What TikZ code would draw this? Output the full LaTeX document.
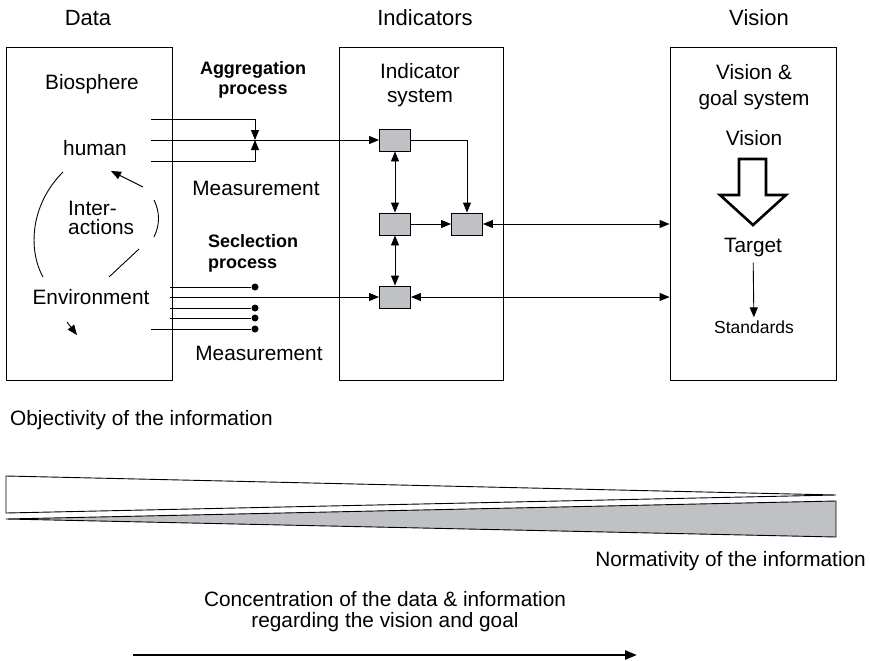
\documentclass[tikz,border=0pt]{standalone}
\usepackage{fontspec}
\setmainfont{Liberation Sans}
\usetikzlibrary{arrows.meta}
\definecolor{boxgray}{RGB}{192,193,197}
\tikzset{
  panel/.style={draw, line width=0.9pt, minimum width=166pt, minimum height=333pt, inner sep=0pt},
  ind/.style={draw, line width=0.9pt, fill=boxgray, minimum width=31pt, minimum height=22pt, inner sep=0pt},
  txt/.style={font=\fontsize{20.8}{24}\selectfont, align=center, inner sep=0pt},
  ttl/.style={font=\fontsize{22}{26}\selectfont, inner sep=0pt},
  bld/.style={font=\bfseries\fontsize{18}{21}\selectfont, inner sep=0pt},
  sml/.style={font=\fontsize{17.5}{20}\selectfont, inner sep=0pt},
  selpt/.style={circle, fill, inner sep=0pt, minimum size=7pt},
  wire/.style={line width=0.9pt},
  arr/.style={-{Triangle[length=10pt,width=8pt]}},
  arrs/.style={{Triangle[length=10pt,width=8pt]}-{Triangle[length=10pt,width=8pt]}},
}
\begin{document}
\begin{tikzpicture}[x=1pt, y=-1pt]
\useasboundingbox (0,0) rectangle (870,661);

% three columns
\node[ttl] (tdata) at (88,18) {Data};
\node[ttl] (tind) at (425,18) {Indicators};
\node[ttl] (tvis) at (759,18) {Vision};
\node[panel] (data) at (89,213.5) {};
\node[panel, minimum width=164pt] (indic) at (421,213.5) {};
\node[panel] (vis) at (753,213.5) {};

% data
\node[txt] (bio) at (92,84) {Biosphere};
\node[txt] (human) at (95,148) {human};
\node[txt, align=left, anchor=west, font=\fontsize{20.8}{19}\selectfont] (inter) at (68,218) {Inter-\\actions};
\node[txt] (env) at (91,297) {Environment};
\draw[wire] (63,172) .. controls (30,205) and (28,250) .. (43,277);
\draw[wire, arr] (143,187) -- (111,171);
\draw[wire] (154,200) .. controls (160,212) and (160,225) .. (154,237);
\draw[wire] (139,249) -- (109,277);
\draw[wire, arr] (67,322) -- (77,335);

% aggregation
\node[bld, align=center, font=\bfseries\fontsize{18}{20}\selectfont] (aggtxt) at (253,80) {Aggregation\\process};
\node[txt] (meas1) at (256,188) {Measurement};
\coordinate (agg) at (255,140);
\coordinate (a1) at (151,119);
\coordinate (a2) at (151,140);
\coordinate (a3) at (151,161);
\draw[wire, arr] (a1) -| (agg);
\draw[wire, arr] (a3) -| (agg);

% selection
\node[bld, align=left, anchor=west] (seltxt) at (208,253) {Seclection\\process};
\node[txt] (meas2) at (259,353) {Measurement};
\foreach \y/\x in {287/170, 308/170, 318/170, 329/151} {
  \node[selpt] (s\y) at (255,\y) {};
  \draw[wire] (\x,\y) -- (s\y);
}
\coordinate (s0) at (170,297);

% indicators
\node[txt] (indsys) at (420,85) {Indicator\\system};
\node[ind] (i1) at (395,140) {};
\node[ind] (i2) at (395,224) {};
\node[ind] (i3) at (467,224) {};
\node[ind] (i4) at (395,297) {};
\draw[wire, arr] (a2) -- (i1);
\draw[wire, arr] (s0) -- (i4);
\draw[wire, arr] (i1.east) -| (i3.north);
\draw[wire, arr] (i2) -- (i3);
\draw[wire, arrs] (i1) -- (i2);
\draw[wire, arrs] (i2) -- (i4);
\draw[wire, arrs] (i3) -- (i3 -| vis.west);
\draw[wire, arrs] (i4) -- (i4 -| vis.west);

% vision
\node[txt, font=\fontsize{20.8}{26}\selectfont] (goal) at (754,87) {Vision \&\\goal system};
\node[txt] (vtop) at (754,138) {Vision};
\draw[line width=2.6pt] (739,159) -- (766,159) -- (766,195) -- (786,195) -- (753,225)
  -- (720,195) -- (739,195) -- cycle;
\node[txt] (target) at (753,248) {Target};
\node[sml] (std) at (754,327) {Standards};
\draw[wire, arr, shorten <=5pt, shorten >=3pt] (target) -- (std);

% information wedges
\node[txt, anchor=west] (obj) at (10,420) {Objectivity of the information};
\draw[wire] (6,476) -- (836,495) -- (6,513) -- cycle;
\filldraw[wire, fill=boxgray] (6,519) -- (836,501) -- (836,537) -- cycle;
\node[txt, anchor=east] (norm) at (866,561) {Normativity of the information};
\node[txt, font=\fontsize{20.8}{21}\selectfont] (conc) at (385,612) {Concentration of the data \& information\\regarding the vision and goal};
\coordinate (c0) at (133,655);
\coordinate (c1) at (637,655);
\draw[line width=2.5pt, -{Triangle[length=12pt,width=9pt]}] (c0) -- (c1);
\end{tikzpicture}
\end{document}
